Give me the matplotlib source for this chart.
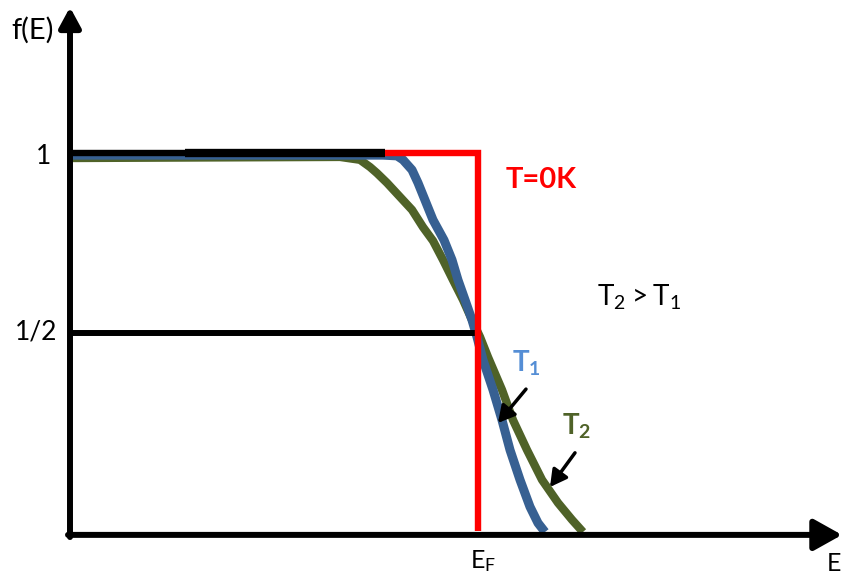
import matplotlib.pyplot as plt

plt.rcParams['font.family'] = ['Lato', 'DejaVu Sans']
plt.rcParams['mathtext.fontset'] = 'custom'
plt.rcParams['mathtext.rm'] = 'Lato'
plt.rcParams['mathtext.bf'] = 'Lato:bold'

# energy in arbitrary units, Fermi level at E_F
E_F = 4.08
f_one = 1.0
f_half = 0.5

# occupation curves for the two temperatures
E_T1 = [0.00, 3.13, 3.27, 3.33, 3.42, 3.48, 3.55, 3.63, 3.74, 3.82, 3.88, 3.95,
        4.02, 4.07, 4.13, 4.23, 4.32, 4.40, 4.50, 4.60, 4.68, 4.75]
f_T1 = [0.994, 0.994, 0.992, 0.981, 0.953, 0.917, 0.869, 0.814, 0.758, 0.703,
        0.647, 0.592, 0.536, 0.489, 0.425, 0.342, 0.258, 0.175, 0.092, 0.017,
        -0.028, -0.053]

E_T2 = [0.00, 2.70, 2.90, 3.00, 3.07, 3.17, 3.30, 3.42, 3.53, 3.63, 3.73, 3.83,
        3.93, 4.02, 4.10, 4.18, 4.32, 4.43, 4.57, 4.72, 4.88, 5.02, 5.13]
f_T2 = [0.986, 0.989, 0.981, 0.961, 0.944, 0.917, 0.878, 0.842, 0.794, 0.756,
        0.703, 0.647, 0.592, 0.536, 0.489, 0.433, 0.342, 0.258, 0.175, 0.092,
        0.028, -0.019, -0.053]

# T = 0 K step
E_step_start = 3.15
f_floor = -0.05

axis_level = -0.061

fig = plt.figure(figsize=(8.43, 5.77), dpi=100)
ax = fig.add_axes([0, 0, 1, 1])
ax.set_xlim(-0.70, 7.73)
ax.set_ylim(-0.178, 1.425)
ax.set_axis_off()

ax.plot(E_T2, f_T2, color='#4F6228', lw=6.0, solid_joinstyle='round',
        solid_capstyle='butt', zorder=2)
ax.plot(E_T1, f_T1, color='#376092', lw=6.5, solid_joinstyle='round',
        solid_capstyle='butt', zorder=3)

# f = 1 and f = 1/2 guide lines
ax.plot([0, 1.15], [f_one, f_one], color='black', lw=4.6, solid_capstyle='butt', zorder=4)
ax.plot([1.15, E_step_start], [f_one, f_one], color='black', lw=6.0,
        solid_capstyle='butt', zorder=4)
ax.plot([0, E_F], [f_half, f_half], color='black', lw=4.3, solid_capstyle='butt', zorder=4)

ax.plot([E_step_start, E_F, E_F], [f_one, f_one, f_floor], color='#FF0000', lw=4.6,
        solid_joinstyle='miter', solid_capstyle='butt', zorder=5)

# axes with arrow heads
ax.annotate('', xy=(0, 1.405), xytext=(0, axis_level - 0.006),
            arrowprops=dict(arrowstyle='-|>,head_length=1.2,head_width=0.65',
                            lw=4.3, color='black', shrinkA=0, shrinkB=0,
                            mutation_scale=10), zorder=6)
ax.annotate('', xy=(7.72, axis_level), xytext=(-0.02, axis_level),
            arrowprops=dict(arrowstyle='-|>,head_length=1.7,head_width=0.95',
                            lw=4.3, color='black', shrinkA=0, shrinkB=0,
                            mutation_scale=10), zorder=6)

# pointers to the curves
ax.annotate('', xy=(4.28, 0.250), xytext=(4.56, 0.344),
            arrowprops=dict(arrowstyle='-|>,head_length=1.0,head_width=0.55',
                            lw=2.5, color='black', shrinkA=0, shrinkB=0,
                            mutation_scale=10), zorder=6)
ax.annotate('', xy=(4.80, 0.072), xytext=(5.05, 0.167),
            arrowprops=dict(arrowstyle='-|>,head_length=1.0,head_width=0.55',
                            lw=2.5, color='black', shrinkA=0, shrinkB=0,
                            mutation_scale=10), zorder=6)

ax.text(-0.59, 1.342, 'f(E)', fontsize=21, ha='left', va='center')
ax.text(-0.26, 0.99, '1', fontsize=19, ha='center', va='center')
ax.text(-0.34, 0.503, '1/2', fontsize=19, ha='center', va='center')
ax.text(4.71, 0.925, 'T=0K', fontsize=21, fontweight='bold', color='#FF0000',
        ha='center', va='center')
ax.text(5.27, 0.575, r'$\mathregular{T_2 > T_1}$', fontsize=20, ha='left', va='baseline')
ax.text(4.42, 0.392, r'$\mathbf{T_1}$', fontsize=20, color='#558ED5',
        ha='left', va='baseline')
ax.text(4.92, 0.217, r'$\mathbf{T_2}$', fontsize=20, color='#4F6228',
        ha='left', va='baseline')
ax.text(4.00, -0.153, r'$\mathregular{E_F}$', fontsize=18, ha='left', va='baseline')
ax.text(7.57, -0.162, 'E', fontsize=18, ha='left', va='baseline')

fig.savefig('out.png', dpi=100)
